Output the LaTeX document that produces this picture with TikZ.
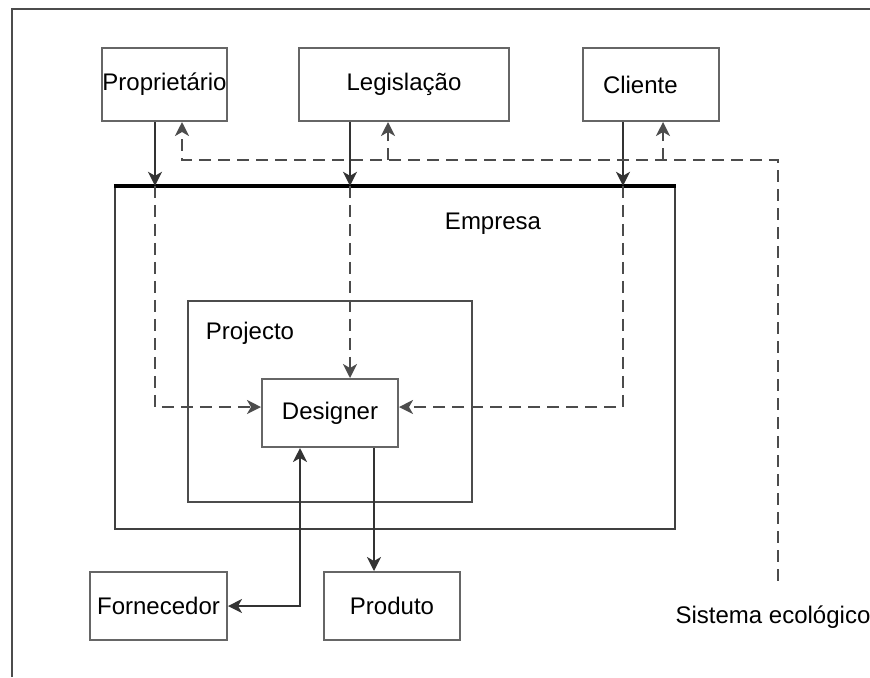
\documentclass[tikz,border=0pt]{standalone}
\usepackage{fontspec}
\setmainfont{Liberation Sans}
\usepackage{tikz}
\usetikzlibrary{arrows.meta, positioning, calc}

\begin{document}
\begin{tikzpicture}[
  x=0.5pt, y=-0.5pt,
  box/.style={draw=black!60, line width=1pt, minimum width=#1, inner sep=0pt, minimum height=34pt, font=\fontsize{12}{14}\selectfont},
  frame/.style={draw=black!75, line width=1.2pt, inner sep=0pt},
  label/.style={font=\fontsize{12}{14}\selectfont},
  arr/.style={-{Stealth[length=7pt, width=7pt, inset=2pt]}, draw=black!80, line width=1pt},
  dsh/.style={draw=black!70, line width=1.1pt, dash pattern=on 6pt off 3.5pt},
  darr/.style={dsh, -{Stealth[length=7pt, width=7pt, inset=2pt]}}
]
  \useasboundingbox (0,0) rectangle (870,677);
  % outer frame (open at right and bottom)
  \draw[black!70, line width=1pt] (12,677) -- (12,9) -- (870,9);

  % top row
  \node[box=62.5pt, minimum height=36.5pt] (prop) at (164.5,84.5) {Proprietário};
  \node[box=105pt, minimum height=36.5pt] (legis) at (404,84.5) {Legislação};
  \node[box=68pt, minimum height=36.5pt, text width=60pt, align=left] (cliente) at (651,84.5) {\hspace{6pt}Cliente};

  % nested systems
  \node[frame, minimum width=280pt, minimum height=171pt] (empresa) at (395,358) {};
  \draw[black, line width=1.7pt] (empresa.north west) -- (empresa.north east);
  \node[label] at (493,224) {Empresa};
  \node[frame, draw=black!70, line width=1pt, minimum width=142pt, minimum height=100.5pt] (projecto) at (330,401.5) {};
  \node[label] at (250,333) {Projecto};
  \node[box=68pt] (designer) at (330,413) {Designer};

  % bottom row
  \node[box=68.5pt] (forn) at (158.5,606) {Fornecedor};
  \node[box=68pt] (produto) at (392,606) {Produto};
  \node[label] (eco) at (773,617) {Sistema ecológico};

  % routing columns
  \coordinate (pa) at (155,0);  \coordinate (pb) at (182,0);
  \coordinate (la) at (350,0);  \coordinate (lb) at (388,0);
  \coordinate (ca) at (623,0);  \coordinate (cb) at (663,0);
  \coordinate (ecotop) at (778,160);
  \coordinate (dy) at (0,407);
  \coordinate (fx) at (300,0);  \coordinate (px) at (374,0);

  % influences into the company
  \draw[arr] (pa |- prop.south) -- (pa |- empresa.north);
  \draw[arr] (la |- legis.south) -- (la |- empresa.north);
  \draw[arr] (ca |- cliente.south) -- (ca |- empresa.north);
  \draw[darr] (pa |- empresa.north) |- (designer.west |- dy);
  \draw[darr] (la |- empresa.north) -- (la |- designer.north);
  \draw[darr] (ca |- empresa.north) |- (designer.east |- dy);

  % ecological system feedback
  \draw[darr] ([yshift=9pt]ecotop |- eco.north) -- (ecotop) -- (pb |- ecotop) -- (pb |- prop.south);
  \draw[darr] (lb |- ecotop) -- (lb |- legis.south);
  \draw[darr] (cb |- ecotop) -- (cb |- cliente.south);

  % supplier and product
  \draw[arr, {Stealth[length=7pt, width=7pt, inset=2pt]}-{Stealth[length=7pt, width=7pt, inset=2pt]}] (fx |- designer.south) |- (forn.east);
  \draw[arr] (px |- designer.south) -- (px |- produto.north);
\end{tikzpicture}
\end{document}
